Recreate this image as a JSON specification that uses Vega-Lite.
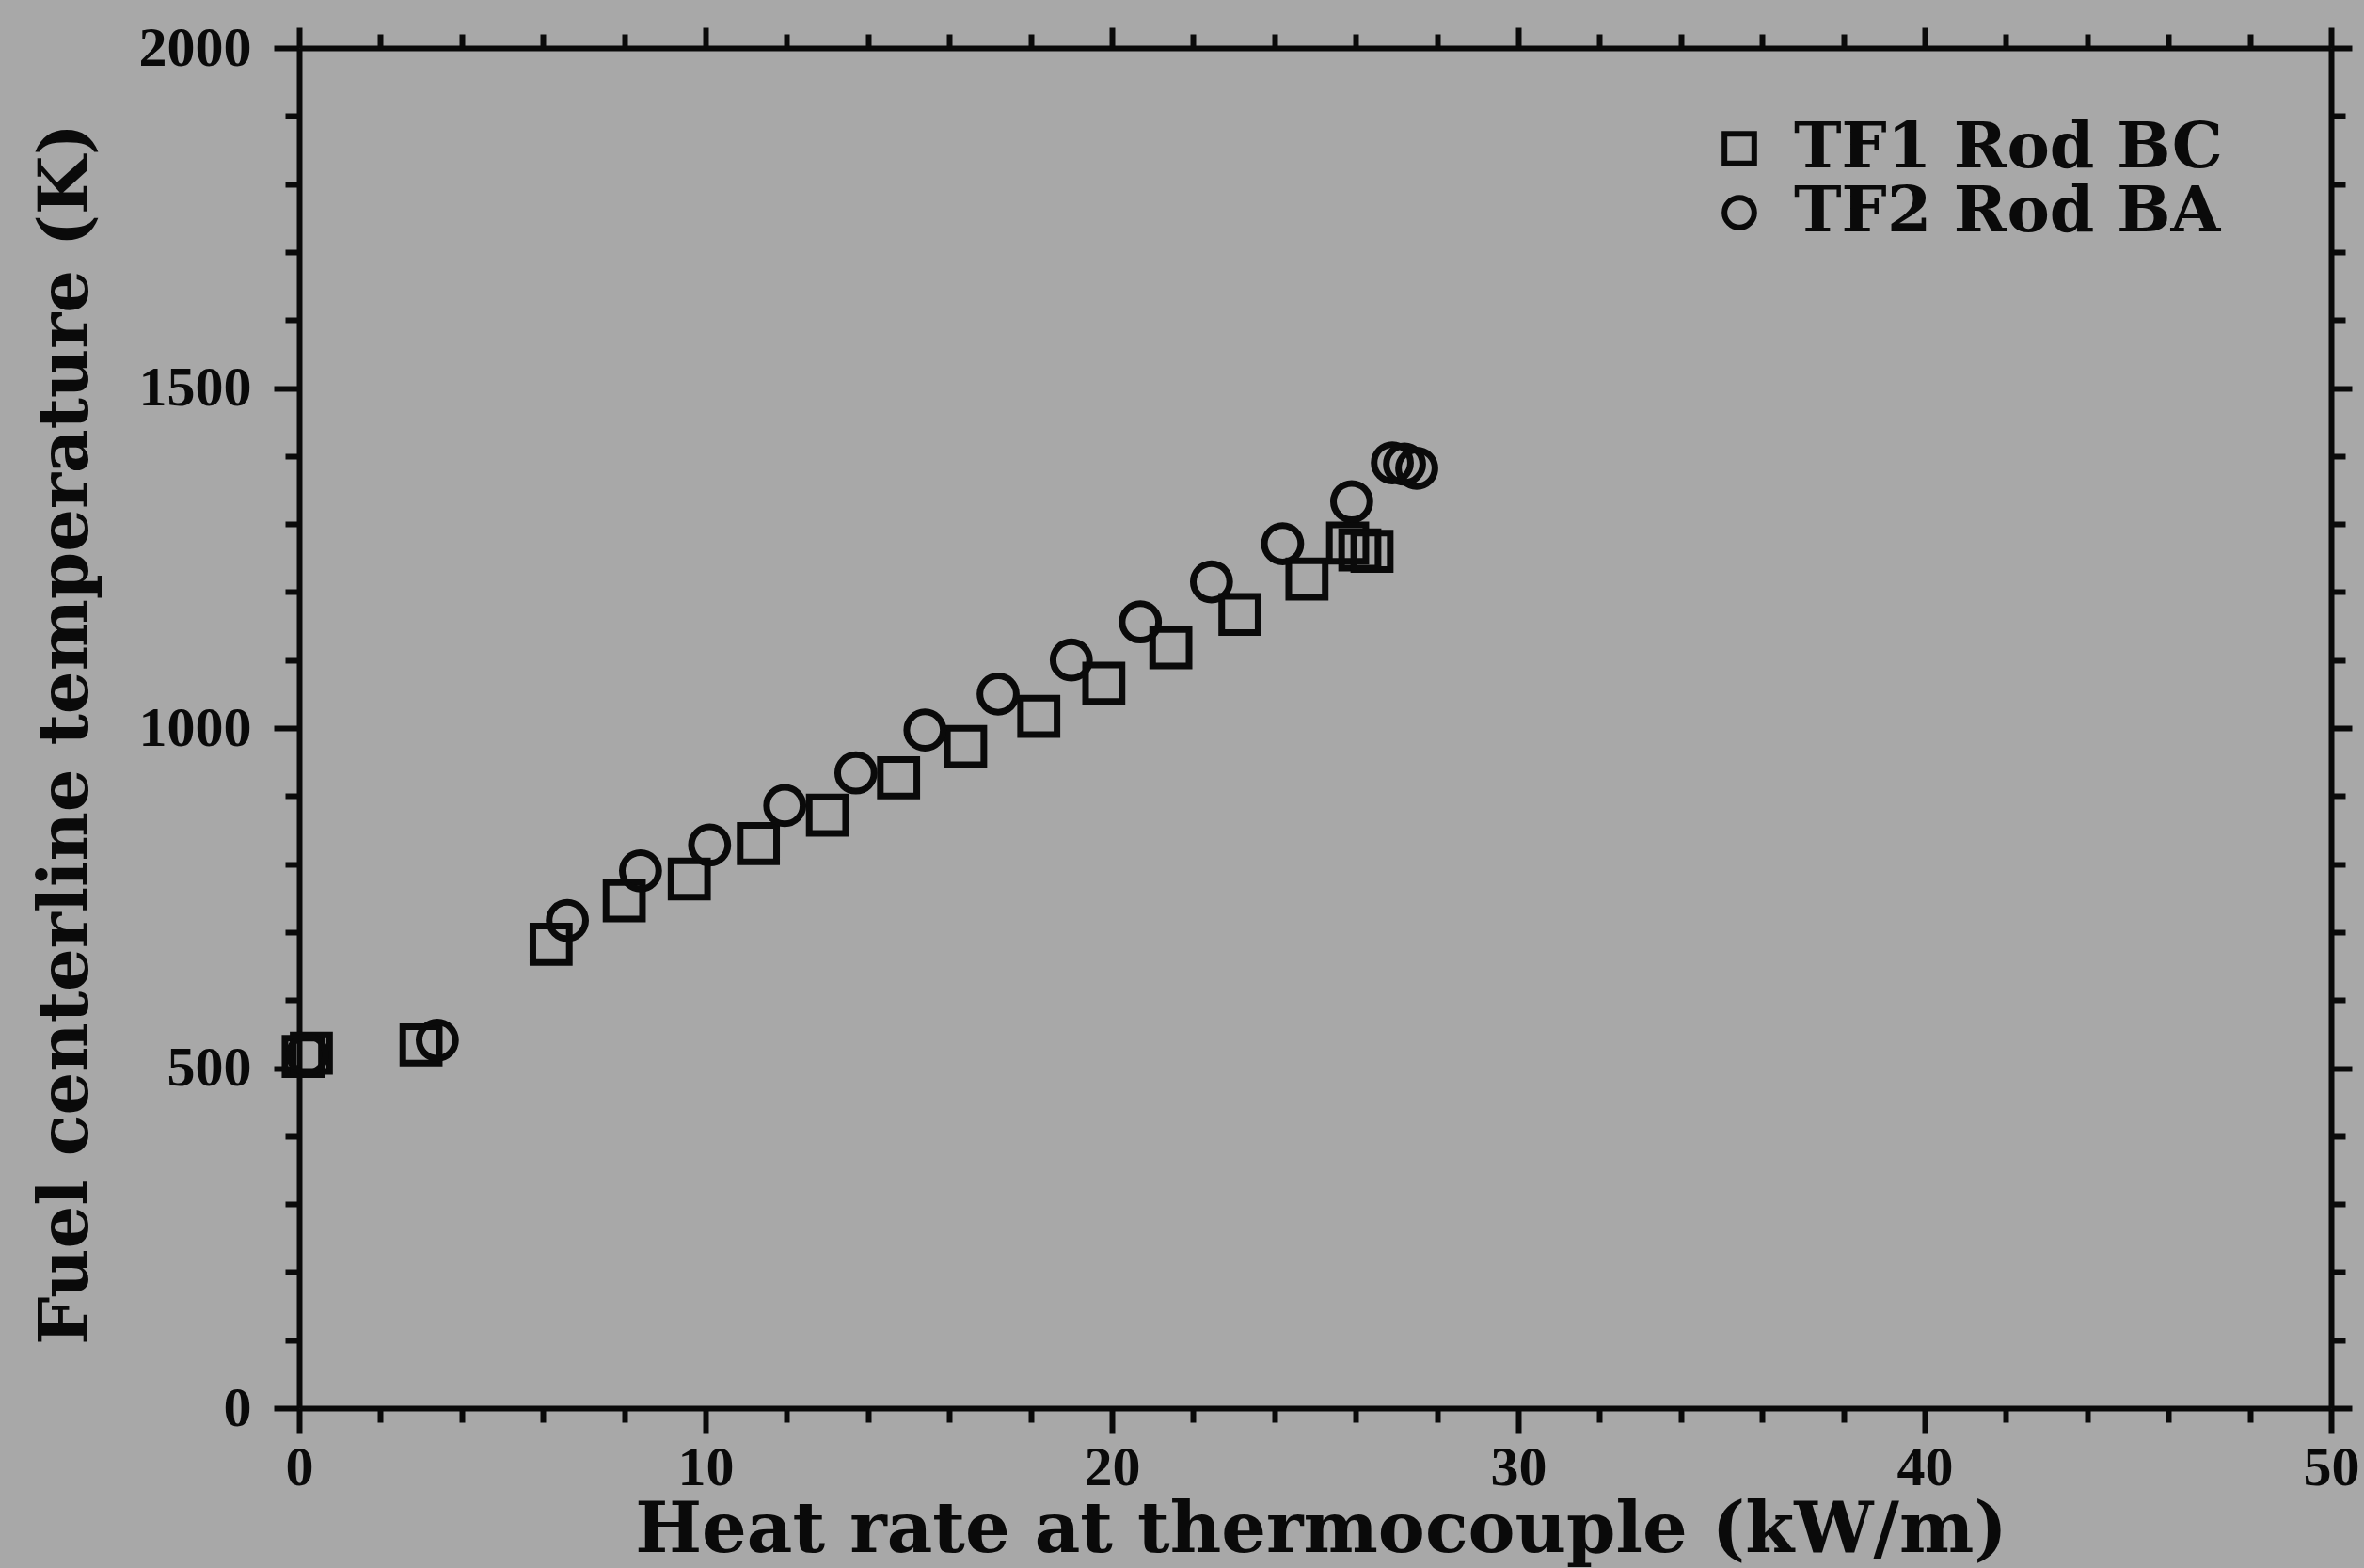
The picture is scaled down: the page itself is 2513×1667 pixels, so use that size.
{
  "$schema": "https://vega.github.io/schema/vega-lite/v6.json",
  "autosize": {"type": "none"},
  "padding": {"left": 318, "top": 51, "right": 35, "bottom": 170},
  "width": 2160,
  "height": 1446,
  "background": "#a8a8a8",
  "config": {
    "view": {"stroke": null},
    "axis": {
      "domainColor": "#0a0a0a",
      "domainWidth": 6,
      "tickColor": "#0a0a0a",
      "tickWidth": 6,
      "grid": false,
      "labelFont": "Liberation Serif",
      "labelFontWeight": "bold",
      "labelFontSize": 60,
      "labelColor": "#0a0a0a",
      "titleFont": "DejaVu Serif",
      "titleFontWeight": "bold",
      "titleColor": "#0a0a0a"
    }
  },
  "data": {
    "values": [
      {"series": "TF1 Rod BC", "q": 0.1, "t": 517},
      {"series": "TF1 Rod BC", "q": 0.3, "t": 522},
      {"series": "TF1 Rod BC", "q": 3.0, "t": 534},
      {"series": "TF1 Rod BC", "q": 6.2, "t": 682},
      {"series": "TF1 Rod BC", "q": 8.0, "t": 746},
      {"series": "TF1 Rod BC", "q": 9.6, "t": 778},
      {"series": "TF1 Rod BC", "q": 11.3, "t": 830},
      {"series": "TF1 Rod BC", "q": 13.0, "t": 872},
      {"series": "TF1 Rod BC", "q": 14.75, "t": 927},
      {"series": "TF1 Rod BC", "q": 16.4, "t": 973},
      {"series": "TF1 Rod BC", "q": 18.2, "t": 1017},
      {"series": "TF1 Rod BC", "q": 19.8, "t": 1066},
      {"series": "TF1 Rod BC", "q": 21.45, "t": 1118},
      {"series": "TF1 Rod BC", "q": 23.15, "t": 1167},
      {"series": "TF1 Rod BC", "q": 24.8, "t": 1219},
      {"series": "TF1 Rod BC", "q": 25.8, "t": 1272},
      {"series": "TF1 Rod BC", "q": 26.1, "t": 1262},
      {"series": "TF1 Rod BC", "q": 26.4, "t": 1260},
      {"series": "TF2 Rod BA", "q": 0.2, "t": 520},
      {"series": "TF2 Rod BA", "q": 3.4, "t": 541},
      {"series": "TF2 Rod BA", "q": 6.6, "t": 717},
      {"series": "TF2 Rod BA", "q": 8.4, "t": 790},
      {"series": "TF2 Rod BA", "q": 10.1, "t": 828},
      {"series": "TF2 Rod BA", "q": 11.95, "t": 886},
      {"series": "TF2 Rod BA", "q": 13.7, "t": 934},
      {"series": "TF2 Rod BA", "q": 15.4, "t": 997},
      {"series": "TF2 Rod BA", "q": 17.2, "t": 1050},
      {"series": "TF2 Rod BA", "q": 19.0, "t": 1100},
      {"series": "TF2 Rod BA", "q": 20.7, "t": 1156},
      {"series": "TF2 Rod BA", "q": 22.45, "t": 1215},
      {"series": "TF2 Rod BA", "q": 24.2, "t": 1271},
      {"series": "TF2 Rod BA", "q": 25.9, "t": 1333},
      {"series": "TF2 Rod BA", "q": 26.9, "t": 1390},
      {"series": "TF2 Rod BA", "q": 27.2, "t": 1388},
      {"series": "TF2 Rod BA", "q": 27.5, "t": 1382}
    ]
  },
  "resolve": {"axis": {"x": "independent", "y": "independent"}},
  "layer": [
    {
      "transform": [{"filter": "datum.series === 'TF1 Rod BC'"}],
      "mark": {"type": "point", "filled": false, "strokeWidth": 7, "size": 1500, "color": "#0a0a0a", "opacity": 1},
      "encoding": {
        "x": {
          "field": "q", "type": "quantitative",
          "scale": {"domain": [0, 50], "nice": false, "zero": false},
          "axis": {
            "orient": "bottom",
            "format": "d",
            "values": [0,2,4,6,8,10,12,14,16,18,20,22,24,26,28,30,32,34,36,38,40,42,44,46,48,50],
            "labelExpr": "datum.value % 10 === 0 ? datum.label : ''",
            "tickSize": {"condition": {"test": "datum.value % 10 === 0", "value": 27}, "value": 15},
            "labelPadding": 7,
            "labelFlush": false,
            "labelOverlap": false,
            "title": "Heat rate at thermocouple (kW/m)",
            "titleFontSize": 75,
            "titleX": 1086,
            "titleY": 152,
            "titleBaseline": "alphabetic",
            "titleAnchor": "middle"
          }
        },
        "y": {
          "field": "t", "type": "quantitative",
          "scale": {"domain": [0, 2000], "nice": false},
          "axis": {
            "orient": "left",
            "format": "d",
            "values": [0,100,200,300,400,500,600,700,800,900,1000,1100,1200,1300,1400,1500,1600,1700,1800,1900,2000],
            "labelExpr": "datum.value % 500 === 0 ? datum.label : ''",
            "tickSize": {"condition": {"test": "datum.value % 500 === 0", "value": 27}, "value": 15},
            "labelPadding": 24,
            "labelFlush": false,
            "labelOverlap": false,
            "title": "Fuel centerline temperature (K)",
            "titleFontSize": 72,
            "titleX": -226,
            "titleY": 729,
            "titleAngle": -90,
            "titleBaseline": "alphabetic",
            "titleAlign": "center"
          }
        },
        "shape": {
          "field": "series", "type": "nominal",
          "scale": {"domain": ["TF1 Rod BC", "TF2 Rod BA"], "range": ["square", "circle"]},
          "legend": {
            "orient": "none",
            "legendX": 1497,
            "legendY": 73,
            "title": null,
            "padding": 0,
            "symbolSize": 1000,
            "symbolStrokeWidth": 6,
            "symbolStrokeColor": "#0a0a0a",
            "labelFont": "DejaVu Serif",
            "labelFontWeight": "bold",
            "labelFontSize": 68,
            "labelColor": "#0a0a0a",
            "labelOffset": 24,
            "rowPadding": 0,
            "labelLimit": 1000
          }
        }
      }
    },
    {
      "transform": [{"filter": "datum.series === 'TF2 Rod BA'"}],
      "mark": {"type": "point", "filled": false, "strokeWidth": 7, "size": 1500, "color": "#0a0a0a", "opacity": 1},
      "encoding": {
        "x": {
          "field": "q", "type": "quantitative",
          "axis": {
            "orient": "top",
            "values": [0,2,4,6,8,10,12,14,16,18,20,22,24,26,28,30,32,34,36,38,40,42,44,46,48,50],
            "labels": false,
            "tickSize": {"condition": {"test": "datum.value % 10 === 0", "value": 22}, "value": 15},
            "title": null
          }
        },
        "y": {
          "field": "t", "type": "quantitative",
          "axis": {
            "orient": "right",
            "values": [0,100,200,300,400,500,600,700,800,900,1000,1100,1200,1300,1400,1500,1600,1700,1800,1900,2000],
            "labels": false,
            "tickSize": {"condition": {"test": "datum.value % 500 === 0", "value": 22}, "value": 15},
            "title": null
          }
        },
        "shape": {"field": "series", "type": "nominal"}
      }
    }
  ]
}
